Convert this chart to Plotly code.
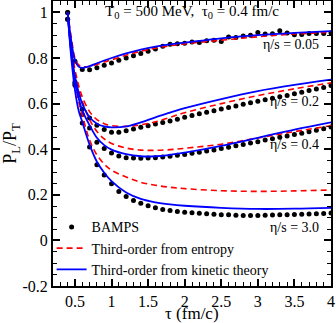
import plotly.graph_objects as go

# ---------------- data ----------------
tau_line = [0.4, 0.45, 0.5, 0.55, 0.6, 0.7, 0.8, 0.9, 1.0, 1.2, 1.4, 1.6, 1.8, 2.0, 2.5, 3.0, 3.5, 4.0]

kin_005 = [1.0, 0.875, 0.79, 0.762, 0.757, 0.764, 0.777, 0.789, 0.80, 0.82, 0.837, 0.85, 0.86, 0.867, 0.886, 0.90, 0.91, 0.918]
ent_005 = [1.0, 0.89, 0.80, 0.77, 0.762, 0.763, 0.772, 0.782, 0.792, 0.812, 0.83, 0.843, 0.854, 0.862, 0.878, 0.893, 0.905, 0.913]

kin_02 = [1.0, 0.83, 0.72, 0.65, 0.60, 0.54, 0.512, 0.50, 0.496, 0.50, 0.518, 0.54, 0.56, 0.58, 0.62, 0.655, 0.682, 0.705]
ent_02 = [1.0, 0.85, 0.75, 0.68, 0.63, 0.565, 0.53, 0.512, 0.503, 0.50, 0.507, 0.52, 0.54, 0.56, 0.60, 0.635, 0.665, 0.691]

kin_04 = [1.0, 0.82, 0.70, 0.625, 0.57, 0.505, 0.45, 0.418, 0.398, 0.378, 0.369, 0.369, 0.375, 0.385, 0.415, 0.45, 0.486, 0.518]
ent_04 = [1.0, 0.84, 0.73, 0.66, 0.61, 0.53, 0.478, 0.445, 0.425, 0.405, 0.396, 0.395, 0.398, 0.404, 0.422, 0.449, 0.477, 0.503]

kin_30 = [1.0, 0.80, 0.66, 0.57, 0.52, 0.42, 0.345, 0.297, 0.26, 0.21, 0.182, 0.167, 0.158, 0.152, 0.143, 0.138, 0.139, 0.143]
ent_30 = [1.0, 0.83, 0.70, 0.61, 0.55, 0.44, 0.375, 0.335, 0.308, 0.278, 0.255, 0.242, 0.233, 0.227, 0.218, 0.215, 0.217, 0.221]

tau_bamps = [0.4, 0.5, 0.6, 0.7, 0.8, 0.9, 1.0, 1.1, 1.2, 1.3, 1.4, 1.5, 1.6, 1.7, 1.8, 1.9,
             2.0, 2.1, 2.2, 2.3, 2.4, 2.5, 2.6, 2.7, 2.8, 2.9, 3.0, 3.1, 3.2, 3.3, 3.4, 3.5,
             3.6, 3.7, 3.8, 3.9, 4.0]

bamps_005 = [1.0, 0.786, 0.75, 0.748, 0.757, 0.768, 0.778, 0.79, 0.80, 0.81, 0.82, 0.83, 0.84, 0.852, 0.86, 0.862,
             0.865, 0.87, 0.868, 0.876, 0.878, 0.872, 0.892, 0.89, 0.897, 0.90, 0.912, 0.905, 0.906, 0.92, 0.91, 0.902,
             0.903, 0.907, 0.907, 0.908, 0.91]
bamps_02 = [1.0, 0.695, 0.575, 0.537, 0.505, 0.486, 0.474, 0.474, 0.481, 0.489, 0.496, 0.503, 0.51, 0.517, 0.524, 0.531,
            0.54, 0.548, 0.555, 0.562, 0.569, 0.576, 0.583, 0.589, 0.597, 0.604, 0.61, 0.617, 0.623, 0.63, 0.636, 0.643,
            0.65, 0.657, 0.664, 0.671, 0.679]
bamps_04 = [0.97, 0.688, 0.552, 0.493, 0.43, 0.403, 0.383, 0.37, 0.363, 0.361, 0.36, 0.361, 0.363, 0.366, 0.369, 0.373,
            0.377, 0.382, 0.387, 0.392, 0.397, 0.403, 0.409, 0.415, 0.421, 0.427, 0.433, 0.44, 0.446, 0.452, 0.458, 0.464,
            0.47, 0.477, 0.483, 0.49, 0.497]
bamps_30 = [0.97, 0.68, 0.515, 0.41, 0.332, 0.287, 0.248, 0.214, 0.193, 0.175, 0.163, 0.152, 0.143, 0.136, 0.131, 0.127,
            0.124, 0.121, 0.119, 0.117, 0.115, 0.113, 0.112, 0.11, 0.109, 0.109, 0.109, 0.11, 0.111, 0.112, 0.113, 0.114,
            0.115, 0.116, 0.117, 0.118, 0.12]

eta_labels = ["η/s = 0.05", "η/s = 0.2", "η/s = 0.4", "η/s = 3.0"]
eta_label_y = [0.859, 0.609, 0.42, 0.055]

x_tickvals = [0.5, 1, 1.5, 2, 2.5, 3, 3.5, 4]
x_ticktext = ["0.5", "1", "1.5", "2", "2.5", "3", "3.5", "4"]
y_tickvals = [-0.2, 0, 0.2, 0.4, 0.6, 0.8, 1]
y_ticktext = ["-0.2", "0", "0.2", "0.4", "0.6", "0.8", "1"]

# ---------------- figure ----------------
FONT = "Liberation Serif, Times New Roman, serif"
fig = go.Figure()

bamps_sets = [bamps_005, bamps_02, bamps_04, bamps_30]
ent_sets = [ent_005, ent_02, ent_04, ent_30]
kin_sets = [kin_005, kin_02, kin_04, kin_30]

for i, b in enumerate(bamps_sets):
    fig.add_trace(go.Scatter(x=tau_bamps, y=b, mode="markers",
                             marker=dict(color="black", size=5),
                             name="BAMPS", legendgroup="b", showlegend=(i == 0)))
for i, e in enumerate(ent_sets):
    fig.add_trace(go.Scatter(x=tau_line, y=e, mode="lines", line_shape="spline",
                             line=dict(color="#ff0000", width=1.6, dash="6px,4px"),
                             name="Third-order from entropy", legendgroup="e", showlegend=(i == 0)))
for i, k in enumerate(kin_sets):
    fig.add_trace(go.Scatter(x=tau_line, y=k, mode="lines", line_shape="spline",
                             line=dict(color="#0000ff", width=1.8),
                             name="Third-order from kinetic theory", legendgroup="k", showlegend=(i == 0)))

for txt, yy in zip(eta_labels, eta_label_y):
    fig.add_annotation(x=3.87, y=yy, text=txt, showarrow=False, xanchor="right", yanchor="middle",
                       font=dict(family=FONT, size=14, color="black"))

fig.add_annotation(x=0.5, y=1.0, xref="paper", yref="paper", yanchor="top", xanchor="center",
                   text="T<sub>0</sub> = 500 MeV,  τ<sub>0</sub> = 0.4 fm/c", showarrow=False,
                   font=dict(family=FONT, size=15, color="black"))

# axis titles as paper annotations for exact placement
fig.add_annotation(x=0.5, y=-0.098, xref="paper", yref="paper", xanchor="center", yanchor="middle",
                   text="τ (fm/c)", showarrow=False, font=dict(family=FONT, size=17, color="black"))
fig.add_annotation(x=-0.15, y=0.5, xref="paper", yref="paper", xanchor="center", yanchor="middle",
                   text="P<sub>L</sub>/P<sub>T</sub>", textangle=-90, showarrow=False,
                   font=dict(family=FONT, size=18, color="black"))

axis_common = dict(showline=True, linecolor="black", linewidth=2, mirror="allticks",
                   ticks="inside", ticklen=7, tickwidth=1.5, tickcolor="black",
                   showgrid=False, zeroline=False, automargin=False,
                   ticklabeloverflow="allow",
                   tickfont=dict(family=FONT, size=16, color="black"))

fig.update_xaxes(range=[0.2, 4.0], tickvals=x_tickvals, ticktext=x_ticktext,
                 minor=dict(dtick=0.1, ticks="inside", ticklen=4, tickwidth=1.2, tickcolor="black"),
                 **axis_common)
fig.update_yaxes(range=[-0.2, 1.05], tickvals=y_tickvals, ticktext=y_ticktext,
                 minor=dict(dtick=0.05, ticks="inside", ticklen=4, tickwidth=1.2, tickcolor="black"),
                 **axis_common)

fig.update_layout(width=336, height=323, margin=dict(l=53, r=5, t=1, b=37),
                  paper_bgcolor="white", plot_bgcolor="white",
                  font=dict(family=FONT, color="black"),
                  legend=dict(x=-0.005, y=0.262, xanchor="left", yanchor="top",
                              bgcolor="rgba(0,0,0,0)", font=dict(family=FONT, size=14, color="black"),
                              tracegroupgap=0, itemwidth=30))

fig.write_html("out.html", config={"displayModeBar": False},
               post_script="document.body.style.margin='0';")
